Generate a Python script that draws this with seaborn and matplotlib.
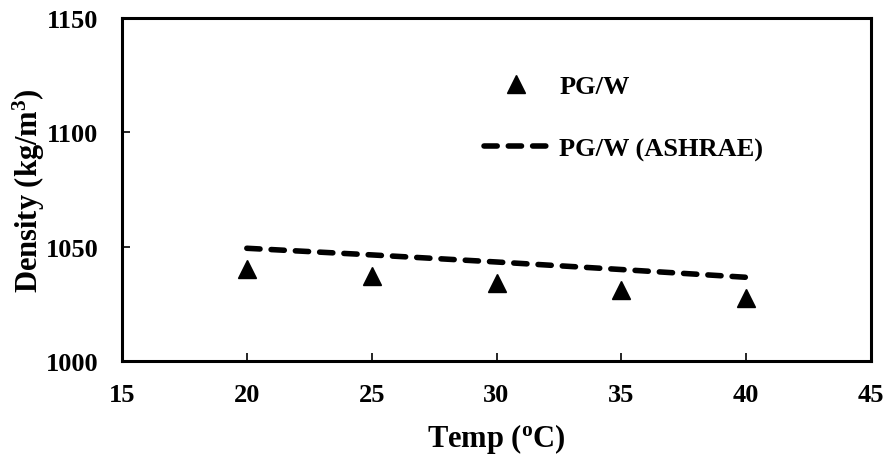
import matplotlib
matplotlib.use("Agg")
import matplotlib.pyplot as plt
import seaborn as sns
import pandas as pd

temps = [20, 25, 30, 35, 40]
density_measured = [1040.4, 1037.3, 1034.2, 1030.9, 1027.5]
density_ashrae = [1049.3, 1046.4, 1043.3, 1040.0, 1036.6]

sns.set_style("ticks")
plt.rcParams['font.family'] = ['Liberation Serif', 'DejaVu Serif']
plt.rcParams['font.weight'] = 'bold'
plt.rcParams['mathtext.default'] = 'bf'
plt.rcParams['lines.scale_dashes'] = False
plt.rcParams['text.color'] = 'black'
plt.rcParams['axes.labelcolor'] = 'black'
plt.rcParams['xtick.color'] = 'black'
plt.rcParams['ytick.color'] = 'black'

df_m = pd.DataFrame({"T": temps, "rho": density_measured})
df_a = pd.DataFrame({"T": temps, "rho": density_ashrae})

fig = plt.figure(figsize=(8.89, 4.56), dpi=100)
ax = fig.add_axes([122/889, 1-362/456, (871-122)/889, (362-19)/456])

sns.lineplot(data=df_a, x="T", y="rho", ax=ax, color="black", linewidth=4.0,
             dashes=False, label="PG/W (ASHRAE)", zorder=2)
line = ax.lines[-1]
line.set_linestyle((0, (9.5, 8.0)))
line.set_dash_capstyle("round")

ax.plot(df_m["T"], df_m["rho"], linestyle="none", marker="^", markersize=13,
        color="black", label="PG/W", zorder=3)

ax.set_xlim(15, 45)
ax.set_ylim(1000, 1150)
ax.set_xticks([15, 20, 25, 30, 35, 40, 45])
ax.set_yticks([1000, 1050, 1100, 1150])
for s in ax.spines.values():
    s.set_visible(True)
    s.set_linewidth(2.2)
    s.set_color("black")
ax.tick_params(axis="both", direction="in", length=6, width=1.2, labelsize=19,
               colors="black", labelcolor="black")
ax.tick_params(axis="x", pad=16)
ax.tick_params(axis="y", pad=17)
ax.set_xlabel("Temp ($\\mathregular{^{o}}$C)", fontsize=22, fontweight="bold", labelpad=11, color="black")
ax.set_ylabel("Density (kg/m$\\mathregular{^{3}}$)", fontsize=22, fontweight="bold", labelpad=-1, color="black")
for lab in ax.get_xticklabels() + ax.get_yticklabels():
    lab.set_fontweight("bold")
    lab.set_color("black")

handles, labels = ax.get_legend_handles_labels()
order = [labels.index("PG/W"), labels.index("PG/W (ASHRAE)")]
leg = ax.legend([handles[i] for i in order], [labels[i] for i in order],
                loc="upper left", bbox_to_anchor=((484-122)/749, (362-76)/343),
                frameon=False, fontsize=19, handlelength=2.4, handletextpad=0.45,
                labelspacing=1.45, borderpad=0, borderaxespad=0)
for t in leg.get_texts():
    t.set_fontweight("bold")
    t.set_color("black")

fig.savefig("out.png", dpi=100)
